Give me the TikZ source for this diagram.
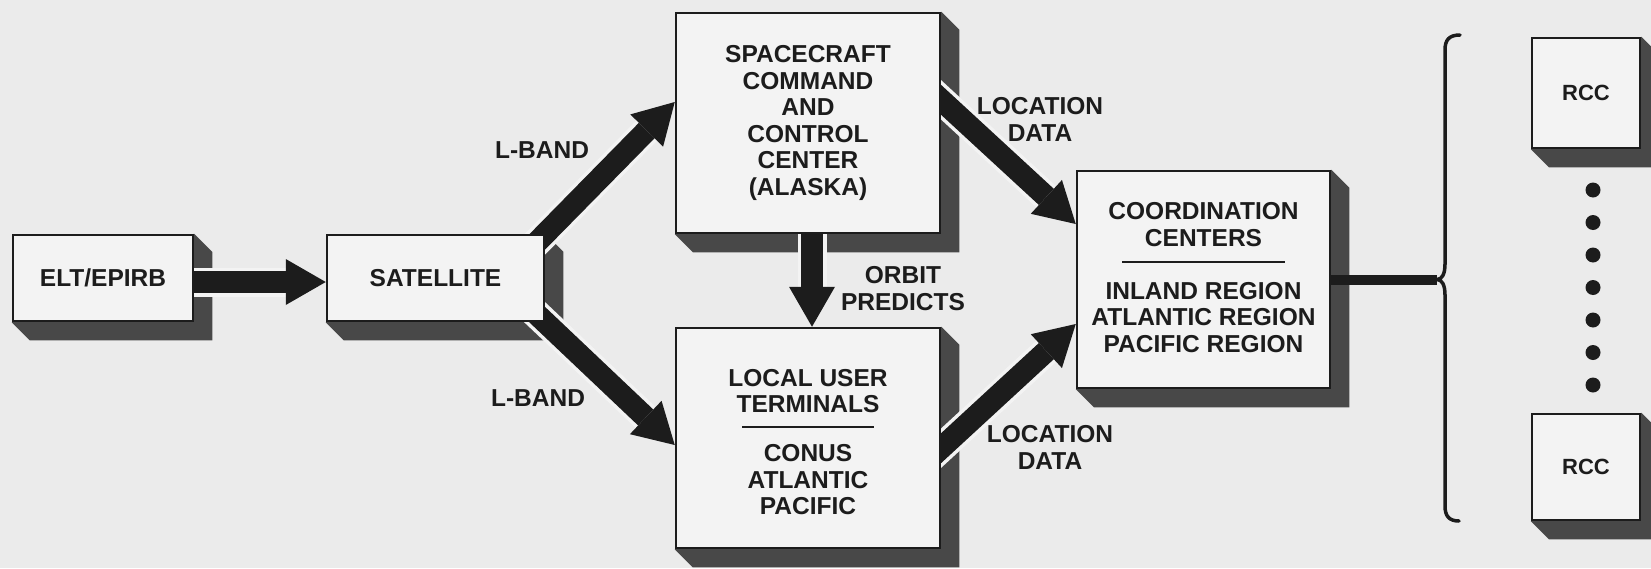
\documentclass[tikz,border=0pt]{standalone}
\usepackage{fontspec}
\setmainfont{Liberation Sans}
\usetikzlibrary{arrows.meta,calc}

\definecolor{paper}{RGB}{235,235,235}
\definecolor{boxfill}{RGB}{243,243,243}
\definecolor{shadowgrey}{RGB}{72,72,72}
\definecolor{ink}{RGB}{28,28,28}

\newcommand\diagfont{\bfseries\fontsize{24.5}{26.5}\selectfont}
\newcommand\rccfont{\bfseries\fontsize{22}{24}\selectfont}

\pgfdeclarelayer{shadows}
\pgfdeclarelayer{links}
\pgfsetlayers{shadows,links,main}

\begin{document}
\begin{tikzpicture}[x=1pt, y=-1pt,
  box/.style={draw=ink, fill=boxfill, line width=2.5pt, inner sep=0pt,
    align=center, text=ink, font=\diagfont},
  caption/.style={align=center, text=ink, font=\diagfont, inner sep=0pt},
  fat/.style={line width=22pt, draw=ink,
    -{Triangle[length=40pt,width=46pt,line width=0pt]},
    shorten <=-16pt,
    preaction={draw=boxfill, line width=29pt, arrows=-,
      shorten >=38pt, shorten <=-16pt}},
  divider/.style={draw=ink, line width=2.5pt},
  feed/.style={draw=ink, line width=10pt},
  bracket/.style={draw=ink, line width=3.5pt, line cap=round, line join=round},
  offset/.style={shift={(18,18)}},
]
\useasboundingbox (0,0) rectangle (1651,568);

% boxes
\node[box, minimum width=180pt, minimum height=86pt] (elt) at (103,278) {ELT/EPIRB};
\node[box, minimum width=217pt, minimum height=86pt] (sat) at (435.5,278) {SATELLITE};
\node[box, minimum width=264pt, minimum height=220pt] (scc) at (808,123)
  {SPACECRAFT\\COMMAND\\AND\\CONTROL\\CENTER\\(ALASKA)};
\node[box, minimum width=264pt, minimum height=220pt] (lut) at (808,438) {};
\node[box, minimum width=253pt, minimum height=217pt] (cc) at (1203.5,279.5) {};
\node[box, minimum width=108pt, minimum height=110pt, font=\rccfont] (rcca) at (1586,93) {RCC};
\node[box, minimum width=108pt, minimum height=106pt, font=\rccfont] (rccb) at (1586,467) {RCC};

% texts inside the split boxes
\node[caption] (luttitle) at (808,391) {LOCAL USER\\TERMINALS};
\node[caption] (lutbody) at (808,480) {CONUS\\ATLANTIC\\PACIFIC};
\node[caption] (cctitle) at (1203.5,224.5) {COORDINATION\\CENTERS};
\node[caption] (ccbody) at (1203.5,317.5) {INLAND REGION\\ATLANTIC REGION\\PACIFIC REGION};
\draw[divider] ([shift={(-66,-11)}]lut.center) -- ([shift={(66,-11)}]lut.center);
\draw[divider] ([shift={(-81.5,-17.5)}]cc.center) -- ([shift={(81.5,-17.5)}]cc.center);

% connector labels
\node[caption] (lband1) at (542,150) {L-BAND};
\node[caption] (lband2) at (538,398) {L-BAND};
\node[caption] (orbit) at (903,288.5) {ORBIT\\PREDICTS};
\node[caption] (loc1) at (1040,119.5) {LOCATION\\DATA};
\node[caption] (loc2) at (1050,447.5) {LOCATION\\DATA};

% bracket fanning out to the rescue centres
\coordinate (tip) at (1437,279.5);
\draw[bracket] (1460,35) .. controls (1449,35) and (1445,40) .. (1445,50)
  -- (1445,264) .. controls (1445,274) and (1442,279.5) .. (tip)
  .. controls (1442,279.5) and (1445,285) .. (1445,295)
  -- (1445,506) .. controls (1445,516) and (1449,521) .. (1459,521);

% dots between the two rescue centres
\foreach \y in {190,222.5,...,385}
  \fill[ink] (1593,\y) circle (7.5);

% paper and extruded drop shadows
\begin{pgfonlayer}{shadows}
  \fill[paper] (0,0) rectangle (1651,568);
  \foreach \b in {elt,sat,scc,lut,cc,rcca,rccb}
    \fill[shadowgrey] (\b.south west) -- ([offset]\b.south west)
      -- ([offset]\b.south east) -- ([offset]\b.north east)
      -- (\b.north east) -- cycle;
\end{pgfonlayer}

% broad arrows and the feed line
\begin{pgfonlayer}{links}
  \draw[fat] ([yshift=-4pt]elt.east) -- ([yshift=-4pt]sat.west);
  \draw[fat] (sat.north east) -- ([yshift=21pt]scc.west);
  \draw[fat] (sat.south east) -- ([yshift=-7pt]lut.west);
  \draw[fat] ([xshift=4pt]scc.south) -- ([xshift=4pt]lut.north);
  \draw[fat] ([yshift=23pt]scc.east) -- ([yshift=55.5pt]cc.west);
  \draw[fat] ([yshift=-10pt]lut.east) -- ([yshift=-44.5pt]cc.west);
  \draw[feed] (cc.east) -- (tip);
\end{pgfonlayer}
\end{tikzpicture}
\end{document}
